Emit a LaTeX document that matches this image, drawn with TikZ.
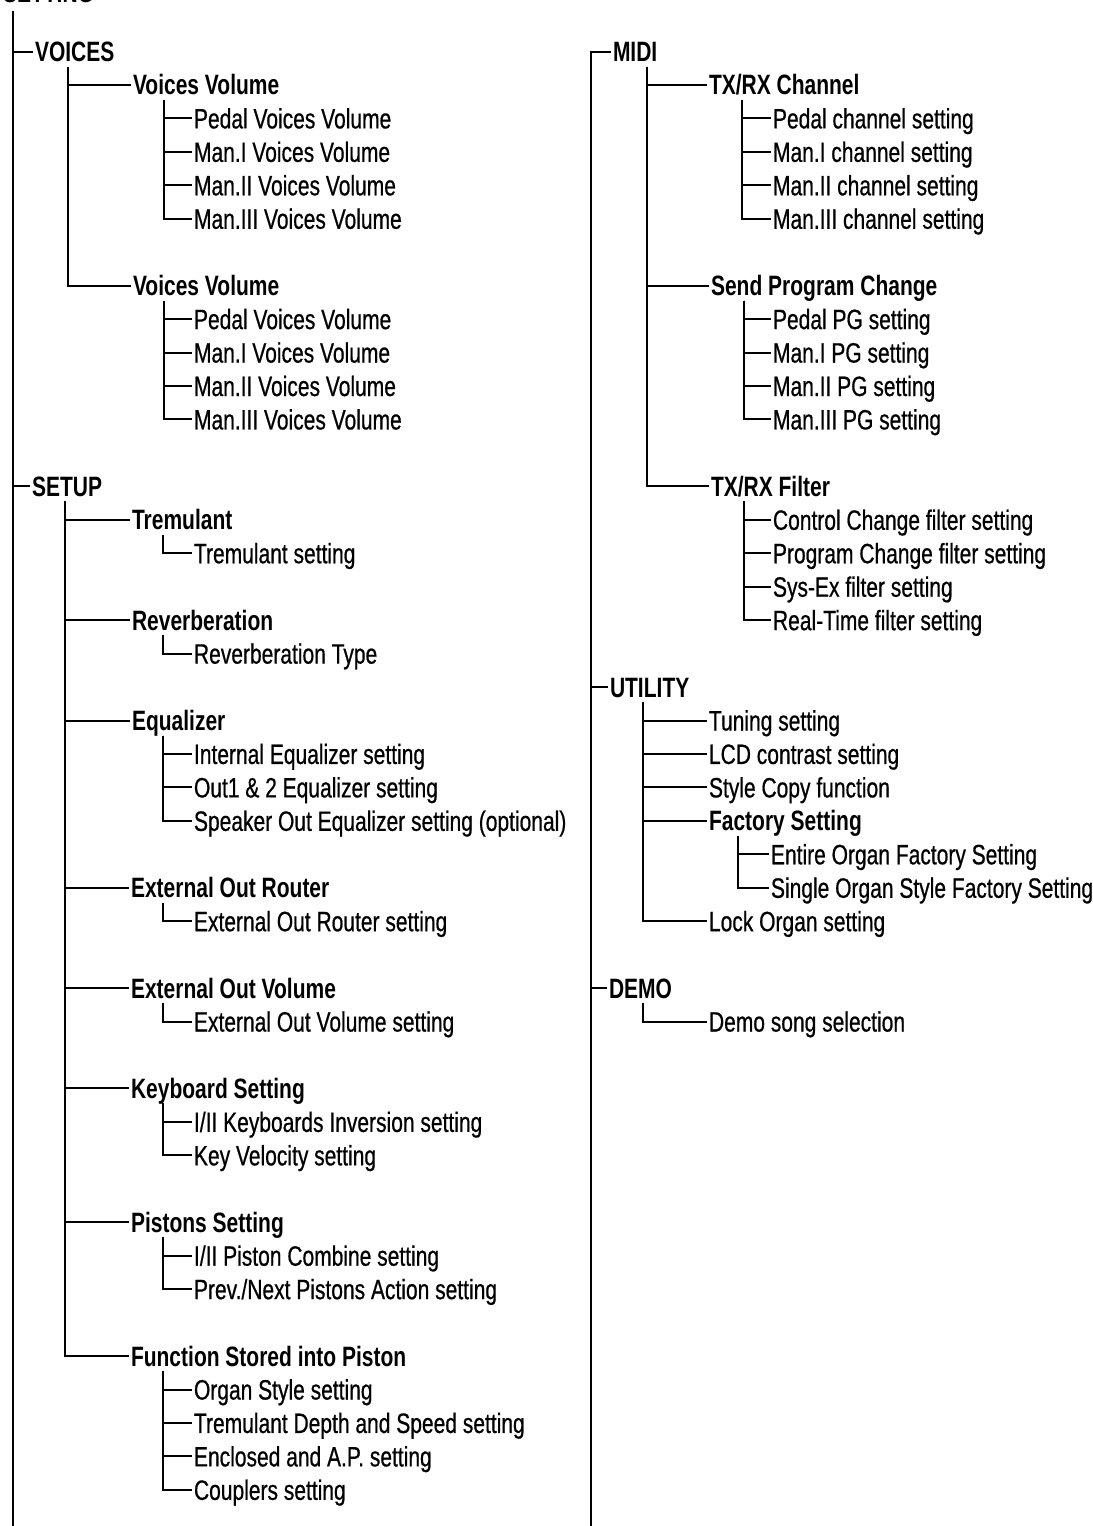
\documentclass[tikz,border=0pt]{standalone}
\usepackage{fontspec}
\setmainfont{Liberation Sans}[FakeStretch=0.75, UprightFeatures={FakeBold=0.6}]
\usetikzlibrary{calc}

\begin{document}
\begin{tikzpicture}[
        x=1pt, y=-33.45pt,
        line width=2pt,
        item/.style={anchor=west, inner sep=0pt, inner xsep=1pt,
            text height=20pt, text depth=0pt,
            font=\fontsize{28}{30}\selectfont},
        head/.style={item, font=\fontsize{28}{30}\selectfont\bfseries}
    ]
        \useasboundingbox (0,-1.5396) rectangle (1093,44.081);

        % left column
        \node[head] (setting) at (1,-1.75) {SETTING};
        \node[head] (voices) at (33,0)  {VOICES};
        \node[head] (vvA) at (131,1) {Voices Volume};
        \node[item] (vvA1) at (192,2) {Pedal Voices Volume};
        \node[item] (vvA2) at (192,3) {Man.I Voices Volume};
        \node[item] (vvA3) at (192,4) {Man.II Voices Volume};
        \node[item] (vvA4) at (192,5) {Man.III Voices Volume};
        \node[head] (vvB) at (131,7) {Voices Volume};
        \node[item] (vvB1) at (192,8)  {Pedal Voices Volume};
        \node[item] (vvB2) at (192,9)  {Man.I Voices Volume};
        \node[item] (vvB3) at (192,10) {Man.II Voices Volume};
        \node[item] (vvB4) at (192,11) {Man.III Voices Volume};

        \node[head] (setup) at (30,13) {SETUP};
        \node[head] (trem) at (130,14) {Tremulant};
        \node[item] (trem1) at (192,15) {Tremulant setting};
        \node[head] (reverb) at (130,17) {Reverberation};
        \node[item] (reverb1) at (192,18) {Reverberation Type};
        \node[head] (eq) at (130,20) {Equalizer};
        \node[item] (eq1) at (192,21) {Internal Equalizer setting};
        \node[item] (eq2) at (192,22) {Out1 \& 2 Equalizer setting};
        \node[item] (eq3) at (192,23) {Speaker Out Equalizer setting (optional)};
        \node[head] (router) at (129,25) {External Out Router};
        \node[item] (router1) at (192,26) {External Out Router setting};
        \node[head] (extvol) at (129,28) {External Out Volume};
        \node[item] (extvol1) at (192,29) {External Out Volume setting};
        \node[head] (keyb) at (129,31) {Keyboard Setting};
        \node[item] (keyb1) at (192,32) {I/II Keyboards Inversion setting};
        \node[item] (keyb2) at (192,33) {Key Velocity setting};
        \node[head] (pist) at (129,35) {Pistons Setting};
        \node[item] (pist1) at (192,36) {I/II Piston Combine setting};
        \node[item] (pist2) at (192,37) {Prev./Next Pistons Action setting};
        \node[head] (store) at (129,39) {Function Stored into Piston};
        \node[item] (store1) at (192,40) {Organ Style setting};
        \node[item] (store2) at (192,41) {Tremulant Depth and Speed setting};
        \node[item] (store3) at (192,42) {Enclosed and A.P. setting};
        \node[item] (store4) at (192,43) {Couplers setting};

        % right column
        \node[head] (midi) at (611,0) {MIDI};
        \node[head] (chan) at (707,1) {TX/RX Channel};
        \node[item] (chan1) at (771,2) {Pedal channel setting};
        \node[item] (chan2) at (771,3) {Man.I channel setting};
        \node[item] (chan3) at (771,4) {Man.II channel setting};
        \node[item] (chan4) at (771,5) {Man.III channel setting};
        \node[head] (prog) at (709,7) {Send Program Change};
        \node[item] (prog1) at (771,8)  {Pedal PG setting};
        \node[item] (prog2) at (771,9)  {Man.I PG setting};
        \node[item] (prog3) at (771,10) {Man.II PG setting};
        \node[item] (prog4) at (771,11) {Man.III PG setting};
        \node[head] (filt) at (709,13) {TX/RX Filter};
        \node[item] (filt1) at (771,14) {Control Change filter setting};
        \node[item] (filt2) at (771,15) {Program Change filter setting};
        \node[item] (filt3) at (771,16) {Sys-Ex filter setting};
        \node[item] (filt4) at (771,17) {Real-Time filter setting};

        \node[head] (util) at (608,19) {UTILITY};
        \node[item] (tune) at (707,20) {Tuning setting};
        \node[item] (lcd) at (707,21) {LCD contrast setting};
        \node[item] (copy) at (707,22) {Style Copy function};
        \node[head] (fact) at (707,23) {Factory Setting};
        \node[item] (fact1) at (769,24) {Entire Organ Factory Setting};
        \node[item] (fact2) at (769,25) {Single Organ Style Factory Setting};
        \node[item] (lock) at (707,26) {Lock Organ setting};

        \node[head] (demo) at (607,28) {DEMO};
        \node[item] (demo1) at (707,29) {Demo song selection};

        % trunks
        \coordinate (lbot) at (13,44.3);
        \coordinate (rbot) at (591,44.3);
        \draw ([xshift=12pt,yshift=-7pt]setting.south west) -- (lbot);
        \foreach \c in {voices,setup}
            \draw (\c.west -| lbot) -- (\c.west);
        \draw (midi.west) -| (rbot);
        \foreach \c in {util,demo}
            \draw (\c.west -| rbot) -- (\c.west);

        % branches
        \foreach \c in {vvA,vvB}
            \draw (voices.south west) ++(35pt,-4pt) |- (\c.west);
        \foreach \c in {vvA1,vvA2,vvA3,vvA4}
            \draw (vvA.south west) ++(33pt,-4pt) |- (\c.west);
        \foreach \c in {vvB1,vvB2,vvB3,vvB4}
            \draw (vvB.south west) ++(33pt,-4pt) |- (\c.west);
        \foreach \c in {trem,reverb,eq,router,extvol,keyb,pist,store}
            \draw (setup.south west) ++(35pt,-4pt) |- (\c.west);
        \draw (trem.south west) ++(33pt,-4pt) |- (trem1.west);
        \draw (reverb.south west) ++(33pt,-4pt) |- (reverb1.west);
        \foreach \c in {eq1,eq2,eq3}
            \draw (eq.south west) ++(33pt,-4pt) |- (\c.west);
        \draw (router.south west) ++(34pt,-4pt) |- (router1.west);
        \draw (extvol.south west) ++(34pt,-4pt) |- (extvol1.west);
        \foreach \c in {keyb1,keyb2}
            \draw (keyb.south west) ++(34pt,-4pt) |- (\c.west);
        \foreach \c in {pist1,pist2}
            \draw (pist.south west) ++(34pt,-4pt) |- (\c.west);
        \foreach \c in {store1,store2,store3,store4}
            \draw (store.south west) ++(34pt,-4pt) |- (\c.west);

        \foreach \c in {chan,prog,filt}
            \draw (midi.south west) ++(36pt,-4pt) |- (\c.west);
        \foreach \c in {chan1,chan2,chan3,chan4}
            \draw (chan.south west) ++(35pt,-4pt) |- (\c.west);
        \foreach \c in {prog1,prog2,prog3,prog4}
            \draw (prog.south west) ++(35pt,-4pt) |- (\c.west);
        \foreach \c in {filt1,filt2,filt3,filt4}
            \draw (filt.south west) ++(35pt,-4pt) |- (\c.west);
        \foreach \c in {tune,lcd,copy,fact,lock}
            \draw (util.south west) ++(35pt,-4pt) |- (\c.west);
        \foreach \c in {fact1,fact2}
            \draw (fact.south west) ++(31pt,-4pt) |- (\c.west);
        \draw (demo.south west) ++(36pt,-4pt) |- (demo1.west);
    \end{tikzpicture}
\end{document}
